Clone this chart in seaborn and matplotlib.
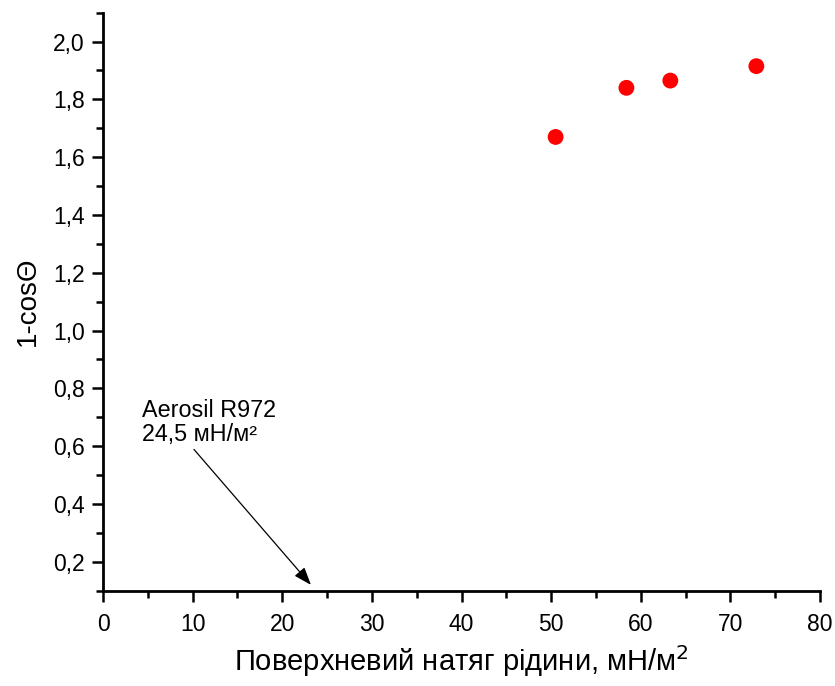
import pandas as pd
import numpy as np
import matplotlib
matplotlib.use("Agg")
import matplotlib.pyplot as plt
from matplotlib.ticker import MultipleLocator, FuncFormatter
import seaborn as sns

# surface tension of liquid vs 1-cos(theta)
tension = [50.5, 58.4, 63.3, 72.9]
one_minus_cos = [1.67, 1.84, 1.865, 1.915]

note_text = "Aerosil R972\n24,5 мН/м\u00b2"
note_xy = (23.2, 0.12)

df = pd.DataFrame({"tension": tension, "val": one_minus_cos})

sns.set_style("ticks")
plt.rcParams['font.family'] = ['Liberation Sans', 'DejaVu Sans']
plt.rcParams['text.color'] = 'black'
plt.rcParams['axes.labelcolor'] = 'black'
plt.rcParams['xtick.color'] = 'black'
plt.rcParams['ytick.color'] = 'black'
plt.rcParams['axes.edgecolor'] = 'black'

fig = plt.figure(figsize=(8.35, 6.86), dpi=100)
ax = fig.add_axes([0.1234, 0.139, 0.8586, 0.8425])

sns.scatterplot(data=df, x="tension", y="val", ax=ax, color="#ff0000",
                s=130, edgecolor="none", legend=False)

ax.set_xlim(0, 80)
ax.set_ylim(0.1, 2.1)
ax.xaxis.set_major_locator(MultipleLocator(10))
ax.xaxis.set_minor_locator(MultipleLocator(5))
ax.yaxis.set_major_locator(MultipleLocator(0.2))
ax.yaxis.set_minor_locator(MultipleLocator(0.1))
ax.yaxis.set_major_formatter(FuncFormatter(lambda v, p: f"{v:.1f}".replace(".", ",")))

sns.despine(ax=ax)
for sp in ["left", "bottom"]:
    ax.spines[sp].set_linewidth(2)
ax.tick_params(which="major", length=8, width=1.8, labelsize=16.5, color="black")
ax.tick_params(axis="x", which="major", pad=8)
ax.tick_params(axis="y", which="major", pad=5)
ax.tick_params(which="minor", length=5, width=1.8, color="black")

ax.set_xlabel("Поверхневий натяг рідини, мН/м$^2$", fontsize=21, labelpad=5)
ax.set_ylabel("1-cosΘ", fontsize=20, labelpad=9)

ax.annotate(note_text, xy=note_xy, xytext=(4.3, 0.6), fontsize=16.8,
            va="bottom", ha="left", linespacing=1.05,
            arrowprops=dict(arrowstyle="-|>,head_length=0.6,head_width=0.22",
                            color="black", lw=0.9,
                            mutation_scale=18, shrinkA=0, shrinkB=0,
                            relpos=(0.37, 0.0)))

fig.savefig("out.png", dpi=100)
